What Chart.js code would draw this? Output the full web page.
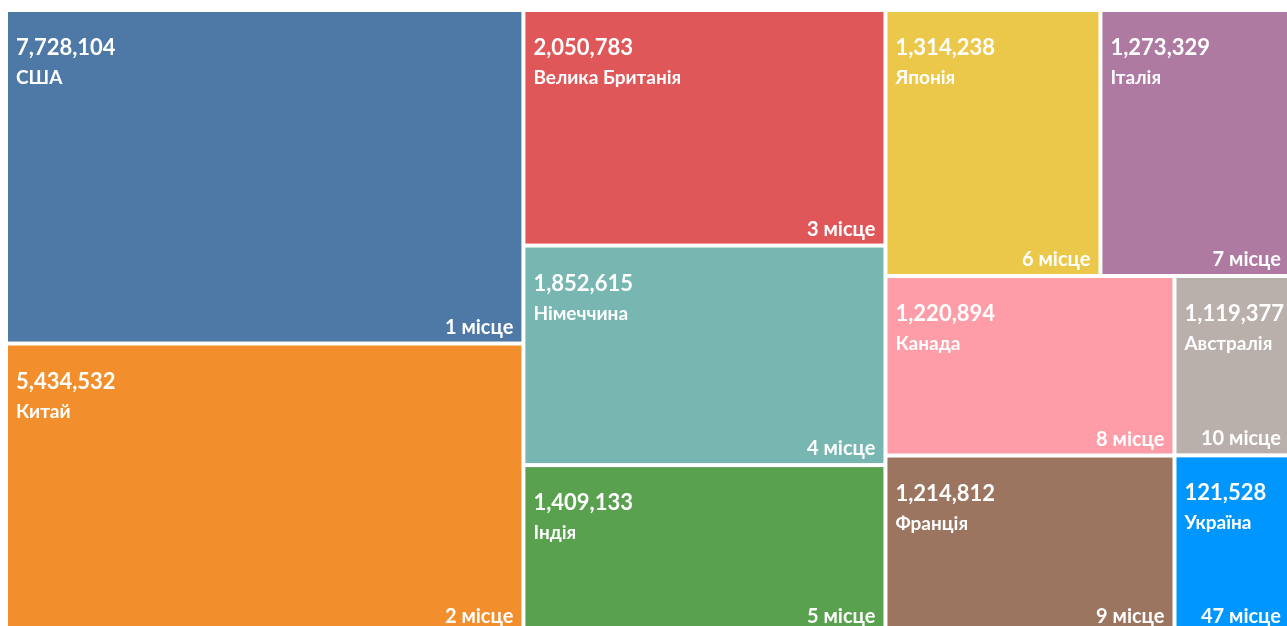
<!DOCTYPE html>
<html>
<head>
<meta charset="utf-8">
<title>Treemap</title>
<script src="https://cdn.jsdelivr.net/npm/chart.js@4.4.1/dist/chart.umd.min.js"></script>
<style>
  html, body { margin: 0; padding: 0; background: #fff; overflow: hidden; }
  #wrap { position: absolute; left: 0; top: 0; width: 1292px; height: 634px; }
</style>
</head>
<body>
<div id="wrap"><canvas id="treemapChart"></canvas></div>
<script>
// Countries in rank order (cells are laid out in this order)
var countries = ['США', 'Китай', 'Велика Британія', 'Німеччина', 'Індія', 'Японія',
  'Італія', 'Канада', 'Франція', 'Австралія', 'Україна'];
var values = [7728104, 5434532, 2050783, 1852615, 1409133, 1314238,
  1273329, 1220894, 1214812, 1119377, 121528];
var ranks = [1, 2, 3, 4, 5, 6, 7, 8, 9, 10, 47];
// relative size of each cell
var cellSizes = [172.6, 149.8, 85.3, 79.5, 60.8, 57.2, 50.7, 51.9, 51.3, 20.9, 20.7];
var colors = ['#4e78a6', '#f28e2b', '#e0575a', '#77b6b1', '#59a14f', '#ebc849',
  '#ae7aa1', '#fe9da7', '#9b755f', '#b9b0ab', '#0096ff'];

var RATIO_LIMIT = 2.5;
var FONT = 'Lato, "Noto Sans", sans-serif';

function worstRatio(row, side) {
  var sum = row.reduce(function(a, b) { return a + b; }, 0);
  var thick = sum / side;
  var worst = 0;
  row.forEach(function(a) {
    var len = a / thick;
    worst = Math.max(worst, thick / len, len / thick);
  });
  return worst;
}

// greedy strip layout: each strip runs along the shorter side of what is left
function squarify(sizes, width, height) {
  var total = sizes.reduce(function(a, b) { return a + b; }, 0);
  var areas = sizes.map(function(s) { return s * width * height / total; });
  var rect = { x: 0, y: 0, w: width, h: height };
  var out = [];
  var i = 0;
  while (i < areas.length) {
    var side = Math.min(rect.w, rect.h);
    var row = [areas[i]];
    var worst = worstRatio(row, side);
    var j = i + 1;
    while (j < areas.length) {
      var next = worstRatio(row.concat(areas[j]), side);
      if (next <= RATIO_LIMIT || next < worst) {
        row.push(areas[j]);
        worst = next;
        j++;
      } else {
        break;
      }
    }
    var sum = row.reduce(function(a, b) { return a + b; }, 0);
    var thick = sum / side;
    if (rect.w >= rect.h) {
      var y = rect.y;
      row.forEach(function(a) {
        out.push({ x: rect.x, y: y, w: thick, h: a / thick });
        y += a / thick;
      });
      rect = { x: rect.x + thick, y: rect.y, w: rect.w - thick, h: rect.h };
    } else {
      var x = rect.x;
      row.forEach(function(a) {
        out.push({ x: x, y: rect.y, w: a / thick, h: thick });
        x += a / thick;
      });
      rect = { x: rect.x, y: rect.y + thick, w: rect.w, h: rect.h - thick };
    }
    i = j;
  }
  return out;
}

var treemapCells = {
  id: 'treemapCells',
  afterDatasetsDraw: function(chart) {
    var xs = chart.scales.x, ys = chart.scales.y;
    var aspect = chart.chartArea.width / chart.chartArea.height;
    var rects = squarify(cellSizes, aspect, 1);
    var ctx = chart.ctx;
    var gap = 2;
    rects.forEach(function(r, i) {
      var left = xs.getPixelForValue(r.x / aspect) + gap;
      var right = xs.getPixelForValue((r.x + r.w) / aspect) - gap;
      var top = ys.getPixelForValue(r.y) + gap;
      var bottom = ys.getPixelForValue(r.y + r.h) - gap;
      ctx.save();
      ctx.fillStyle = colors[i];
      ctx.fillRect(left, top, right - left, bottom - top);
      ctx.beginPath();
      ctx.rect(left, top, right - left, bottom - top);
      ctx.clip();
      ctx.fillStyle = '#ffffff';
      ctx.textBaseline = 'alphabetic';
      ctx.textAlign = 'left';
      ctx.font = 'bold 22px ' + FONT;
      ctx.fillText(values[i].toLocaleString('en-US'), left + 8, top + 43);
      ctx.font = 'bold 19px ' + FONT;
      ctx.fillText(countries[i], left + 8, top + 72);
      ctx.textAlign = 'right';
      ctx.font = 'bold 20px ' + FONT;
      ctx.fillText(ranks[i] + ' місце', right - 8, bottom - 8);
      ctx.restore();
    });
  }
};

document.addEventListener('DOMContentLoaded', function() {
  var ctx = document.getElementById('treemapChart').getContext('2d');
  new Chart(ctx, {
    type: 'scatter',
    data: { datasets: [{ data: [], pointRadius: 0 }] },
    options: {
      responsive: true,
      maintainAspectRatio: false,
      animation: false,
      layout: { padding: { left: 6, top: 10, right: 1, bottom: 1 } },
      plugins: { legend: { display: false }, tooltip: { enabled: false } },
      scales: {
        x: { type: 'linear', min: 0, max: 1, display: false },
        y: { type: 'linear', min: 0, max: 1, reverse: true, display: false }
      }
    },
    plugins: [treemapCells]
  });
});
</script>
</body>
</html>
